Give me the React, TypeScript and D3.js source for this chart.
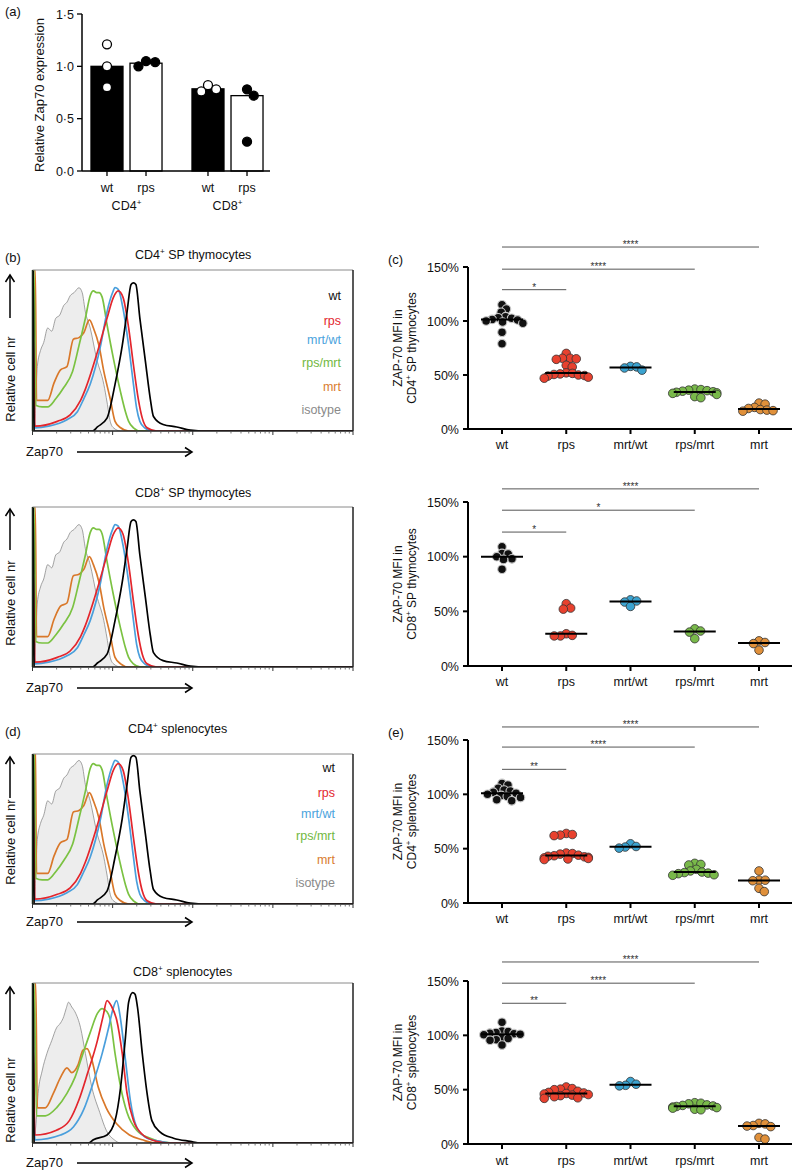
import React from 'react';
import * as d3 from 'd3';

const FONT = "'Liberation Sans', Arial, Helvetica, sans-serif";

// ---------------- Panel (a) data ----------------
const aGroups = ['CD4', 'CD8'];
const aGenotypes = ['wt', 'rps'];
const aBarsCD4 = [1.0, 1.03];
const aBarsCD8 = [0.785, 0.72];
const aDotsCD4wt = [1.21, 1.0, 0.8];
const aDotsCD4rps = [1.05, 1.0, 1.04];
const aDotsCD8wt = [0.82, 0.76, 0.78];
const aDotsCD8rps = [0.78, 0.72, 0.28];
const aTicks = [0, 0.5, 1.0, 1.5];
const aTickLabels = ['0·0', '0·5', '1·0', '1·5'];

// ---------------- Scatter data (% of wt) ----------------
const groups = ['wt', 'rps', 'mrt/wt', 'rps/mrt', 'mrt'];
const pctTicks = [0, 50, 100, 150];
const pctTickLabels = ['0%', '50%', '100%', '150%'];
const sigTargets = ['rps', 'rps/mrt', 'mrt'];

// (c) CD4+ SP thymocytes
const c1Wt = [115, 111, 108, 104, 103, 102.5, 101.5, 101, 100, 99, 98, 89.5, 79];
const c1Rps = [70, 65.5, 65.5, 65, 64.5, 59, 57.5, 52, 51.5, 51, 50.5, 50, 49.5, 49, 48, 47];
const c1MrtWt = [58, 54.5, 56.5, 57.5];
const c1RpsMrt = [37, 36.5, 36, 35.5, 35, 34.5, 34, 33.5, 33, 32, 30, 29];
const c1Mrt = [24, 23, 20, 19, 18, 17.5, 17, 16.5];
const c1SigLevels = [129, 148, 168.5];
const c1SigLabels = ['*', '****', '****'];

// (c) CD8+ SP thymocytes
const c2Wt = [109, 103, 102.5, 100, 98, 97.5, 88.5];
const c2Rps = [57, 53, 52, 29.5, 28, 27.5, 27.5];
const c2MrtWt = [60.5, 59.5, 58.5, 54.5];
const c2RpsMrt = [34, 32, 31, 25];
const c2Mrt = [23, 21.5, 20.5, 14.5];
const c2SigLevels = [122.5, 142.5, 162];
const c2SigLabels = ['*', '*', '****'];

// (e) CD4+ splenocytes
const e1Wt = [110, 108.5, 105.5, 104, 103, 102, 101, 100, 99, 98, 97, 95, 94];
const e1Rps = [64, 63, 62.5, 62, 46, 45.5, 45, 44, 43.5, 43, 42.5, 42, 41.5, 41, 40.5, 40];
const e1MrtWt = [54.5, 52, 51.5, 50.5];
const e1RpsMrt = [36.5, 35.5, 35, 31, 29.5, 28.5, 28, 27.5, 27, 26, 25.5];
const e1Mrt = [29.5, 21, 21, 20.5, 13.5, 10.5];
const e1SigLevels = [123, 143.5, 162];
const e1SigLabels = ['**', '****', '****'];

// (e) CD8+ splenocytes
const e2Wt = [112, 104, 103.5, 102.5, 102, 101.5, 101, 100.5, 98, 97, 96, 95.5, 91];
const e2Rps = [52.5, 51, 50.5, 50, 48.5, 47.5, 47, 46.5, 46, 45.5, 45, 44.5, 43.5, 42.5, 42];
const e2MrtWt = [57.5, 55, 54, 53.5];
const e2RpsMrt = [38, 37.5, 37, 36, 35.5, 35, 34.5, 34, 33.5, 33, 32, 31.5];
const e2Mrt = [19, 18.5, 17, 16.5, 16, 6, 4.5];
const e2SigLevels = [129.5, 148, 167.5];
const e2SigLabels = ['**', '****', '****'];

// ---------------- Histogram data: [log decade, % of max] ----------------
// thymocyte / CD4 splenocyte overlay
const histAIso = [[0, 0], [0.03, 8], [0.06, 40], [0.1, 50], [0.14, 55], [0.19, 64], [0.24, 62], [0.29, 70], [0.34, 72], [0.39, 78], [0.43, 80], [0.47, 84], [0.52, 86], [0.58, 89], [0.62, 86], [0.66, 74], [0.72, 64], [0.8, 45], [0.89, 29], [0.93, 18], [0.97, 6], [1.01, 2], [1.1, 0], [4, 0]];
const histAMrt = [[0, 0], [0.01, 100], [0.035, 100], [0.05, 19], [0.12, 19], [0.19, 19], [0.27, 30], [0.35, 38], [0.43, 40], [0.51, 57], [0.58, 58], [0.64, 61], [0.71, 69], [0.76, 64], [0.83, 53], [0.89, 37], [0.97, 20], [1.03, 6], [1.1, 2], [1.2, 0], [4, 0]];
const histARpsMrt = [[0, 0], [0.01, 100], [0.02, 100], [0.04, 16], [0.12, 15], [0.19, 15], [0.29, 20], [0.39, 27], [0.5, 37], [0.58, 53], [0.66, 70], [0.72, 84], [0.76, 87], [0.8, 86], [0.83, 86], [0.87, 83], [0.93, 66], [1.01, 45], [1.1, 24], [1.16, 12], [1.2, 6], [1.26, 2], [1.35, 0], [4, 0]];
const histAMrtWt = [[0, 0], [0.01, 60], [0.025, 2], [0.2, 3], [0.43, 7], [0.56, 12], [0.64, 20], [0.72, 29], [0.85, 53], [0.93, 74], [1.0, 86], [1.03, 89], [1.07, 88], [1.13, 76], [1.2, 53], [1.26, 29], [1.3, 14], [1.34, 6], [1.4, 2], [1.5, 0], [4, 0]];
const histARps = [[0, 0], [0.01, 60], [0.03, 3], [0.31, 6], [0.47, 10], [0.6, 19], [0.66, 26], [0.81, 49], [0.93, 70], [1.01, 83], [1.07, 87], [1.13, 83], [1.2, 64], [1.26, 41], [1.32, 20], [1.37, 8], [1.43, 2], [1.55, 0], [4, 0]];
const histAWt = [[0, 0], [0.01, 100], [0.02, 0], [0.75, 0], [0.81, 2.5], [0.93, 8], [1.03, 29], [1.12, 53], [1.18, 74], [1.23, 91], [1.26, 92], [1.29, 91], [1.34, 70], [1.41, 43], [1.47, 20], [1.51, 9], [1.63, 4], [1.8, 2.5], [1.97, 0.5], [2.1, 0], [4, 0]];

// CD8 splenocyte overlay
const histBIso = [[0, 0], [0.04, 10], [0.07, 31], [0.12, 45], [0.18, 56], [0.24, 64], [0.3, 72], [0.35, 75], [0.39, 79], [0.42, 84], [0.45, 88], [0.49, 85], [0.53, 82], [0.6, 72], [0.66, 56], [0.74, 35], [0.84, 19], [0.92, 8], [1.02, 2], [1.1, 0], [4, 0]];
const histBMrt = [[0, 0], [0.01, 100], [0.04, 100], [0.06, 22], [0.16, 22], [0.26, 31], [0.35, 41], [0.43, 47], [0.49, 44], [0.57, 49], [0.63, 58], [0.68, 59], [0.74, 52], [0.82, 35], [0.92, 22], [1.05, 12], [1.21, 5], [1.37, 2], [1.54, 0], [4, 0]];
const histBRpsMrt = [[0, 0], [0.01, 100], [0.02, 100], [0.05, 17], [0.16, 17], [0.3, 22], [0.43, 31], [0.53, 41], [0.63, 56], [0.72, 69], [0.81, 81], [0.87, 84], [0.93, 82], [0.97, 77], [1.03, 56], [1.1, 35], [1.18, 19], [1.3, 8], [1.47, 3], [1.63, 0.5], [1.75, 0], [4, 0]];
const histBRps = [[0, 0], [0.01, 60], [0.03, 5], [0.3, 8], [0.46, 14], [0.58, 27], [0.69, 44], [0.81, 64], [0.88, 79], [0.93, 89], [0.99, 85], [1.05, 77], [1.12, 56], [1.18, 31], [1.26, 14], [1.38, 5], [1.55, 1], [1.7, 0], [4, 0]];
const histBMrtWt = [[0, 0], [0.01, 40], [0.03, 2], [0.35, 5], [0.51, 10], [0.64, 21], [0.76, 38], [0.87, 56], [0.95, 72], [1.0, 83], [1.05, 89], [1.1, 77], [1.16, 52], [1.22, 27], [1.3, 10], [1.43, 3], [1.6, 1], [1.75, 0], [4, 0]];
const histBWt = [[0, 0], [0.01, 100], [0.02, 0], [0.7, 0], [0.76, 2], [0.93, 5], [1.03, 14], [1.1, 35], [1.16, 66], [1.2, 88], [1.25, 94], [1.28, 93], [1.31, 85], [1.37, 56], [1.43, 31], [1.49, 14], [1.59, 7], [1.76, 3], [1.97, 1], [2.1, 0], [4, 0]];

const legendLabels = ['wt', 'rps', 'mrt/wt', 'rps/mrt', 'mrt', 'isotype'];
const legendColors = ['#111111', '#e3262d', '#4aa3dd', '#72b83f', '#d97c30', '#8a8a8a'];
const histLineColors = { wt: '#000000', rps: '#e3262d', mrtwt: '#4a9fdc', rpsmrt: '#7bc242', mrt: '#d9782a' };
const dotColors = ['#111111', '#e8412e', '#3ba3d0', '#79b94a', '#e0903a'];

type Pt = number[];

function swarm(values: number[], yScale: (v: number) => number, r: number, maxOff: number) {
  const items = values.map((v) => ({ v, y: yScale(v), dx: 0 })).sort((a, b) => a.y - b.y);
  const placed: { v: number; y: number; dx: number }[] = [];
  const d2 = 4 * r * r;
  for (const p of items) {
    const cands = [0];
    for (const q of placed) {
      const dy = p.y - q.y;
      if (Math.abs(dy) < 2 * r) {
        const dx = Math.sqrt(d2 - dy * dy);
        cands.push(q.dx + dx, q.dx - dx);
      }
    }
    cands.sort((a, b) => Math.abs(a) - Math.abs(b));
    let chosen = cands[cands.length - 1];
    for (const c of cands) {
      if (placed.every((q) => (c - q.dx) ** 2 + (p.y - q.y) ** 2 >= d2 - 1e-6)) {
        chosen = c;
        break;
      }
    }
    p.dx = Math.max(-maxOff, Math.min(maxOff, chosen));
    placed.push(p);
  }
  return placed;
}

function SupText(props: any) {
  const { x, y, pre, post, fontSize, anchor, transform, fill } = props;
  return (
    <text x={x} y={y} fontSize={fontSize} textAnchor={anchor || 'start'} transform={transform} fill={fill || '#111'}>
      {pre}
      <tspan dy={-fontSize * 0.38} fontSize={fontSize * 0.65}>+</tspan>
      <tspan dy={fontSize * 0.38}>{post}</tspan>
    </text>
  );
}

function PanelA() {
  const outer = d3.scaleBand().domain(aGroups).range([76, 278]);
  const inner = d3.scaleBand().domain(aGenotypes).range([0, outer.bandwidth()]).paddingInner(0.18).paddingOuter(0.384);
  const y = d3.scaleLinear().domain([0, 1.5]).range([171, 14]);
  const bars = [
    { g: 'CD4', t: 'wt', v: aBarsCD4[0], dots: aDotsCD4wt },
    { g: 'CD4', t: 'rps', v: aBarsCD4[1], dots: aDotsCD4rps },
    { g: 'CD8', t: 'wt', v: aBarsCD8[0], dots: aDotsCD8wt },
    { g: 'CD8', t: 'rps', v: aBarsCD8[1], dots: aDotsCD8rps },
  ];
  const axisX = 82;
  return (
    <g>
      <text x={5} y={16} fontSize={13}>(a)</text>
      <text transform={`translate(44,95) rotate(-90)`} textAnchor="middle" fontSize={13}>Relative Zap70 expression</text>
      {bars.map((b, i) => {
        const x0 = (outer(b.g) as number) + (inner(b.t) as number);
        const w = inner.bandwidth();
        const black = b.t === 'wt';
        const sw = swarm(b.dots, y, 4.6, 14);
        return (
          <g key={i}>
            <rect x={x0} y={y(b.v)} width={w} height={y(0) - y(b.v)} fill={black ? '#000' : '#fff'} stroke="#000" strokeWidth={1.3} />
            {sw.map((p, j) => (
              <circle key={j} cx={x0 + w / 2 + p.dx} cy={p.y} r={4.5} fill={black ? '#fff' : '#000'} stroke="#000" strokeWidth={1.3} />
            ))}
            <line x1={x0 + w / 2} x2={x0 + w / 2} y1={y(0)} y2={y(0) + 5} stroke="#000" strokeWidth={1.3} />
            <text x={x0 + w / 2} y={192} textAnchor="middle" fontSize={12.5}>{b.t}</text>
          </g>
        );
      })}
      {aGroups.map((g) => (
        <SupText key={g} x={(outer(g) as number) + outer.bandwidth() / 2} y={210} pre={g.slice(0, 3)} post="" fontSize={12.5} anchor="middle" />
      ))}
      <line x1={axisX} x2={axisX} y1={y(1.5)} y2={y(0)} stroke="#000" strokeWidth={1.5} />
      <line x1={axisX} x2={270} y1={y(0)} y2={y(0)} stroke="#000" strokeWidth={1.5} />
      {aTicks.map((t, i) => (
        <g key={i}>
          <line x1={axisX - 5} x2={axisX} y1={y(t)} y2={y(t)} stroke="#000" strokeWidth={1.3} />
          <text x={axisX - 8} y={y(t) + 4.5} textAnchor="end" fontSize={12.5}>{aTickLabels[i]}</text>
        </g>
      ))}
    </g>
  );
}

function ScatterPanel(props: any) {
  const { cfg } = props;
  const x = d3.scalePoint().domain(groups).range([502, 759]);
  const y = d3.scaleLinear().domain([0, 150]).range([cfg.y0, cfg.y150]);
  const axisX = 468;
  const midY = (cfg.y0 + cfg.y150) / 2;
  return (
    <g>
      {cfg.letter && <text x={388} y={cfg.letterY} fontSize={13}>{cfg.letter}</text>}
      <text transform={`translate(402,${midY}) rotate(-90)`} textAnchor="middle" fontSize={12}>ZAP-70 MFI in</text>
      <SupText transform={`translate(416,${midY}) rotate(-90)`} x={0} y={0} pre={cfg.cell[0]} post={cfg.cell[1]} fontSize={12} anchor="middle" />
      {cfg.sigLevels.map((lv: number, i: number) => {
        const xa = x('wt') as number;
        const xb = x(sigTargets[i]) as number;
        return (
          <g key={i}>
            <line x1={xa} x2={xb} y1={y(lv)} y2={y(lv)} stroke="#555" strokeWidth={1} />
            <text x={(xa + xb) / 2} y={y(lv) + 1} textAnchor="middle" fontSize={10} fill="#333">{cfg.sigLabels[i]}</text>
          </g>
        );
      })}
      {cfg.data.map((vals: number[], gi: number) => {
        const cx = x(groups[gi]) as number;
        const sw = swarm(vals, y, 3.1, 22);
        const med = d3.median(vals) as number;
        const isWt = gi === 0;
        return (
          <g key={gi}>
            {sw.map((p, j) => (
              <circle key={j} cx={cx + p.dx} cy={p.y} r={4.3} fill={dotColors[gi]} stroke={isWt ? '#c8c8c8' : '#333'} strokeWidth={isWt ? 1.1 : 0.8} />
            ))}
            <line x1={cx - 21} x2={cx + 21} y1={y(med)} y2={y(med)} stroke="#000" strokeWidth={2} />
          </g>
        );
      })}
      <line x1={axisX} x2={axisX} y1={y(150)} y2={y(0) + 1} stroke="#000" strokeWidth={2} />
      <line x1={axisX - 1} x2={792} y1={y(0)} y2={y(0)} stroke="#000" strokeWidth={2} />
      {pctTicks.map((t, i) => (
        <g key={i}>
          <line x1={axisX - 5} x2={axisX} y1={y(t)} y2={y(t)} stroke="#000" strokeWidth={2} />
          <text x={axisX - 9} y={y(t) + 4.5} textAnchor="end" fontSize={12.5}>{pctTickLabels[i]}</text>
        </g>
      ))}
      {groups.map((g) => (
        <g key={g}>
          <line x1={x(g) as number} x2={x(g) as number} y1={y(0)} y2={y(0) + 5} stroke="#000" strokeWidth={2} />
          <text x={x(g) as number} y={cfg.xLabelY} textAnchor="middle" fontSize={12.5}>{g}</text>
        </g>
      ))}
    </g>
  );
}

function HistPanel(props: any) {
  const { cfg } = props;
  const x0 = 32.5;
  const x1 = 353;
  const x = d3.scaleLinear().domain([0, 4]).range([x0, x1]);
  const y = d3.scaleLinear().domain([0, cfg.yMax]).range([cfg.bottom, cfg.top]);
  const line = d3.line<Pt>().x((d) => x(d[0])).y((d) => y(d[1])).curve(d3.curveMonotoneX);
  const area = d3.area<Pt>().x((d) => x(d[0])).y0(y(0)).y1((d) => y(d[1])).curve(d3.curveMonotoneX);
  const h = cfg.hist;
  const clipId = 'clip-' + cfg.key;
  const decades = [0, 1, 2, 3, 4];
  const minors: number[] = [];
  for (let dcd = 0; dcd < 4; dcd++) for (let k = 2; k <= 9; k++) minors.push(dcd + Math.log10(k));
  const zy = cfg.zapY - 4;
  const ax = 10;
  return (
    <g>
      {cfg.letter && <text x={5} y={cfg.letterY} fontSize={13}>{cfg.letter}</text>}
      <SupText x={cfg.titleX} y={cfg.titleY} pre={cfg.title[0]} post={cfg.title[1]} fontSize={12.5} />
      <defs>
        <clipPath id={clipId}>
          <rect x={x0} y={cfg.top} width={x1 - x0} height={cfg.bottom - cfg.top} />
        </clipPath>
      </defs>
      <g clipPath={`url(#${clipId})`}>
        <path d={area(h.iso) as string} fill="#ededed" stroke="none" />
        <path d={line(h.iso) as string} fill="none" stroke="#8c8c8c" strokeWidth={0.8} />
        <path d={line(h.mrt) as string} fill="none" stroke={histLineColors.mrt} strokeWidth={1.7} />
        <path d={line(h.rpsmrt) as string} fill="none" stroke={histLineColors.rpsmrt} strokeWidth={1.7} />
        <path d={line(h.mrtwt) as string} fill="none" stroke={histLineColors.mrtwt} strokeWidth={1.7} />
        <path d={line(h.rps) as string} fill="none" stroke={histLineColors.rps} strokeWidth={1.7} />
        <path d={line(h.wt) as string} fill="none" stroke={histLineColors.wt} strokeWidth={1.7} />
      </g>
      <line x1={x0} x2={x1} y1={cfg.top} y2={cfg.top} stroke="#8a8a8a" strokeWidth={1} />
      <line x1={x1} x2={x1} y1={cfg.top} y2={cfg.bottom} stroke="#222" strokeWidth={1.5} />
      <line x1={x0} x2={x0} y1={cfg.top} y2={cfg.bottom} stroke="#1c2a1c" strokeWidth={1.5} />
      <line x1={x0} x2={x1} y1={cfg.bottom} y2={cfg.bottom} stroke="#222" strokeWidth={1.3} />
      {decades.map((d) => (
        <line key={'M' + d} x1={x(d)} x2={x(d)} y1={cfg.bottom} y2={cfg.bottom + 4} stroke="#333" strokeWidth={1} />
      ))}
      {minors.map((d, i) => (
        <line key={'m' + i} x1={x(d)} x2={x(d)} y1={cfg.bottom} y2={cfg.bottom + 2.5} stroke="#555" strokeWidth={0.8} />
      ))}
      {cfg.legend && legendLabels.map((l, i) => (
        <text key={l} x={cfg.legendRight} y={cfg.legendYs[i]} textAnchor="end" fontSize={12.5} fill={legendColors[i]}>{l}</text>
      ))}
      <text x={26} y={cfg.zapY} fontSize={13}>Zap70</text>
      <line x1={77} x2={192} y1={zy} y2={zy} stroke="#000" strokeWidth={1.5} />
      <polyline points={`185,${zy - 4.5} 192,${zy} 185,${zy + 4.5}`} fill="none" stroke="#000" strokeWidth={1.5} />
      <line x1={ax} x2={ax} y1={cfg.arrowTop} y2={cfg.arrowBottom} stroke="#000" strokeWidth={1.5} />
      <polyline points={`${ax - 4.5},${cfg.arrowTop + 7} ${ax},${cfg.arrowTop} ${ax + 4.5},${cfg.arrowTop + 7}`} fill="none" stroke="#000" strokeWidth={1.5} />
      <text transform={`translate(${ax + 4.5},${cfg.relY}) rotate(-90)`} textAnchor="middle" fontSize={13}>Relative cell nr</text>
    </g>
  );
}

const histA = { iso: histAIso, mrt: histAMrt, rpsmrt: histARpsMrt, mrtwt: histAMrtWt, rps: histARps, wt: histAWt };
const histB = { iso: histBIso, mrt: histBMrt, rpsmrt: histBRpsMrt, mrtwt: histBMrtWt, rps: histBRps, wt: histBWt };

const histPanels = [
  { key: 'b1', letter: '(b)', letterY: 262, title: ['CD4', ' SP thymocytes'], titleX: 135, titleY: 259, top: 270, bottom: 431, yMax: 100, hist: histA, legend: true, legendRight: 341, legendYs: [300, 325, 344, 367, 391, 414], arrowTop: 275, arrowBottom: 318, relY: 379, zapY: 456 },
  { key: 'b2', letter: '', letterY: 0, title: ['CD8', ' SP thymocytes'], titleX: 135, titleY: 497, top: 507, bottom: 667, yMax: 100, hist: histA, legend: false, legendRight: 0, legendYs: [], arrowTop: 509, arrowBottom: 550, relY: 603, zapY: 692 },
  { key: 'd1', letter: '(d)', letterY: 736, title: ['CD4', ' splenocytes'], titleX: 128, titleY: 733, top: 754, bottom: 904, yMax: 93, hist: histA, legend: true, legendRight: 335, legendYs: [772, 797, 818, 840, 864, 887], arrowTop: 757, arrowBottom: 798, relY: 842, zapY: 926 },
  { key: 'd2', letter: '', letterY: 0, title: ['CD8', ' splenocytes'], titleX: 133, titleY: 976, top: 983, bottom: 1143, yMax: 100, hist: histB, legend: false, legendRight: 0, legendYs: [], arrowTop: 987, arrowBottom: 1030, relY: 1100, zapY: 1167 },
];

const scatterPanels = [
  { key: 'c1', letter: '(c)', letterY: 264, cell: ['CD4', ' SP thymocytes'], y150: 267, y0: 429, xLabelY: 449, data: [c1Wt, c1Rps, c1MrtWt, c1RpsMrt, c1Mrt], sigLevels: c1SigLevels, sigLabels: c1SigLabels },
  { key: 'c2', letter: '', letterY: 0, cell: ['CD8', ' SP thymocytes'], y150: 502, y0: 666, xLabelY: 686, data: [c2Wt, c2Rps, c2MrtWt, c2RpsMrt, c2Mrt], sigLevels: c2SigLevels, sigLabels: c2SigLabels },
  { key: 'e1', letter: '(e)', letterY: 737, cell: ['CD4', ' splenocytes'], y150: 740, y0: 903, xLabelY: 923, data: [e1Wt, e1Rps, e1MrtWt, e1RpsMrt, e1Mrt], sigLevels: e1SigLevels, sigLabels: e1SigLabels },
  { key: 'e2', letter: '', letterY: 0, cell: ['CD8', ' splenocytes'], y150: 981, y0: 1144, xLabelY: 1165, data: [e2Wt, e2Rps, e2MrtWt, e2RpsMrt, e2Mrt], sigLevels: e2SigLevels, sigLabels: e2SigLabels },
];

export default function App() {
  return (
    <svg width={794} height={1172} style={{ position: 'absolute', left: 0, top: 0, background: '#fff' }} fontFamily={FONT} fill="#111">
      <rect x={0} y={0} width={794} height={1172} fill="#fff" />
      <PanelA />
      {histPanels.map((c) => <HistPanel key={c.key} cfg={c} />)}
      {scatterPanels.map((c) => <ScatterPanel key={c.key} cfg={c} />)}
    </svg>
  );
}
